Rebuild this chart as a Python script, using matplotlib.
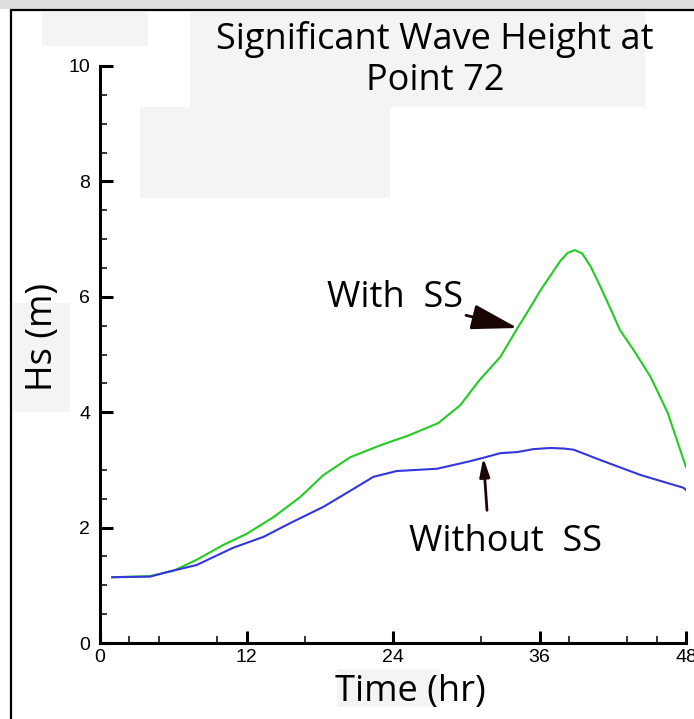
import matplotlib.pyplot as plt
from matplotlib.patches import Rectangle

# Hs at point 72
time_with = [1.0, 4.1, 6.0, 7.9, 10.1, 12.0, 14.2, 16.4, 18.3, 20.5, 23.0, 25.2, 27.7,
             29.5, 31.1, 32.8, 34.2, 35.2, 36.1, 37.0, 37.7, 38.3, 38.9, 39.5, 40.2,
             41.0, 41.8, 42.6, 43.7, 45.1, 46.5, 48.0]
hs_with = [1.14, 1.16, 1.25, 1.44, 1.70, 1.89, 2.18, 2.53, 2.91, 3.22, 3.43, 3.59, 3.81,
           4.12, 4.56, 4.96, 5.46, 5.80, 6.12, 6.40, 6.62, 6.76, 6.81, 6.75, 6.52,
           6.17, 5.80, 5.42, 5.08, 4.61, 3.99, 3.05]

time_without = [1.0, 4.1, 5.5, 7.9, 10.9, 13.4, 15.6, 18.3, 20.2, 22.4, 24.3, 27.6,
                30.1, 31.4, 32.8, 34.2, 35.5, 36.9, 38.0, 38.8, 41.0, 44.3, 47.8, 48.0]
hs_without = [1.14, 1.15, 1.23, 1.35, 1.65, 1.84, 2.08, 2.36, 2.60, 2.88, 2.98, 3.02,
              3.14, 3.21, 3.29, 3.31, 3.36, 3.38, 3.37, 3.35, 3.17, 2.91, 2.69, 2.65]

x_major = [0, 12, 24, 36, 48]
x_minor = [2.4, 4.8, 9.6, 16.8, 31.2, 38.4, 43.2, 45.6]
y_major = [0, 2, 4, 6, 8, 10]
y_minor = [0.5, 1, 1.5, 2.5, 3, 4.5, 5, 5.5, 6.5, 7, 7.5, 8.5, 9, 9.5]

BIG_FONT = "Open Sans"
BIG_SIZE = 26
SHADE = "#f6f3f3"

fig = plt.figure(figsize=(6.94, 7.19), dpi=100)
W, H = 694, 719


def px_rect(x0, y0, x1, y1, **kw):
    # rectangle given in image pixels (top-left origin)
    fig.patches.append(Rectangle((x0 / W, 1 - y1 / H), (x1 - x0) / W, (y1 - y0) / H,
                                 transform=fig.transFigure, figure=fig, **kw))


# page decoration: grey strip, frame and shaded boxes
px_rect(0, 0, 694, 9, facecolor="#dedede", edgecolor="none", zorder=0)
px_rect(11, 10, 720, 740, facecolor="none", edgecolor="black", linewidth=1.6, zorder=1)
px_rect(42, 12, 148, 46, facecolor=SHADE, edgecolor="none", zorder=0)
px_rect(190, 12, 645, 107, facecolor=SHADE, edgecolor="none", zorder=0)
px_rect(140, 107, 390, 198, facecolor=SHADE, edgecolor="none", zorder=0)
px_rect(13, 303, 70, 412, facecolor=SHADE, edgecolor="none", zorder=0)
px_rect(337, 669, 440, 707, facecolor=SHADE, edgecolor="none", zorder=0)

ax = fig.add_axes([100 / W, 1 - 643 / H, 586 / W, 577 / H])
ax.set_zorder(3)
ax.patch.set_alpha(0)
ax.plot(time_with, hs_with, color="#22cc22", linewidth=1.5)
ax.plot(time_without, hs_without, color="#3535dd", linewidth=1.5)

ax.set_xlim(0, 48)
ax.set_ylim(0, 10)
for side in ["top", "right"]:
    ax.spines[side].set_visible(False)
for side in ["left", "bottom"]:
    ax.spines[side].set_linewidth(2.2)
    ax.spines[side].set_zorder(5)

ax.set_xticks(x_major)
ax.set_xticks(x_minor, minor=True)
ax.set_yticks(y_major)
ax.set_yticks(y_minor, minor=True)
ax.tick_params(which="major", direction="in", length=9, width=2.2, labelsize=14,
               labelfontfamily="Liberation Sans")
ax.tick_params(which="minor", direction="in", length=5, width=1.1)
ax.tick_params(axis="x", pad=4)
ax.tick_params(axis="y", pad=7)

ax.set_xlabel("Time (hr)", fontfamily=BIG_FONT, fontsize=BIG_SIZE)
ax.xaxis.set_label_coords(0.53, -0.053)
ax.set_ylabel("Hs (m)", fontfamily=BIG_FONT, fontsize=BIG_SIZE)
ax.yaxis.set_label_coords(-0.066, 0.53)

fig.text(435 / W, 1 - 60 / H, "Significant Wave Height at\nPoint 72", ha="center", va="center",
         fontfamily=BIG_FONT, fontsize=BIG_SIZE, linespacing=1.2)

arrow = dict(arrowstyle="-|>,head_length=1.1,head_width=0.3", color="#1a0505", linewidth=2.0,
             shrinkA=0, shrinkB=0)
ax.annotate("With  SS", xy=(34.2, 5.46), xytext=(29.75, 5.98), ha="right", va="center",
            fontfamily=BIG_FONT, fontsize=BIG_SIZE, arrowprops=arrow)
ax.annotate("", xy=(31.4, 3.21), xytext=(31.7, 2.3), arrowprops=arrow)
ax.text(33.2, 1.75, "Without  SS", ha="center", va="center",
        fontfamily=BIG_FONT, fontsize=BIG_SIZE)

fig.savefig("out.png", dpi=100)
